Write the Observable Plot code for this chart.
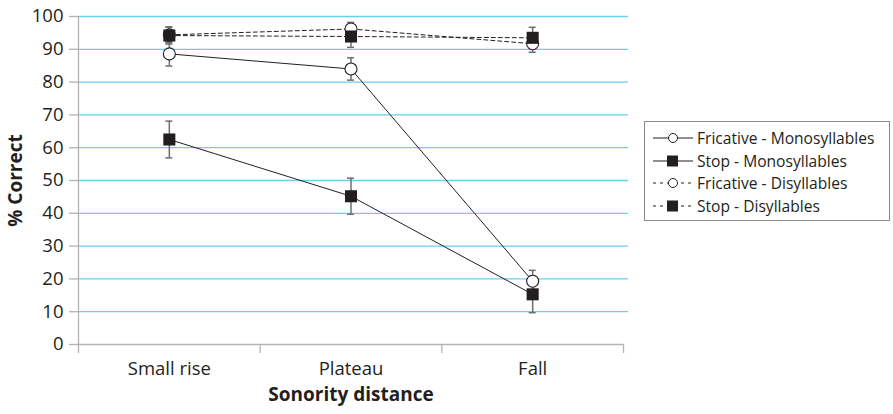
<!DOCTYPE html>
<html>
<head>
<meta charset="utf-8">
<script src="https://cdn.jsdelivr.net/npm/d3@7"></script>
<script src="https://cdn.jsdelivr.net/npm/@observablehq/plot@0.6"></script>
<style>
  body { margin: 0; background: #fff; font-family: "Open Sans", sans-serif; }
  #wrap { position: relative; width: 893px; height: 414px; }
  #legend { position: absolute; left: 644px; top: 121px; width: 246px; height: 100px;
            border: 1px solid #8a8a8a; box-sizing: border-box; padding-top: 5px; }
  .row { display: flex; align-items: center; height: 22.6px; font-size: 15.6px; color: #231f20; white-space: nowrap; }
  .row svg { margin-left: 7px; margin-right: 3px; }
</style>
</head>
<body>
<div id="wrap"><div id="legend"></div></div>
<script>
const categories = ["Small rise", "Plateau", "Fall"];
const seriesNames = ["Fricative - Monosyllables", "Stop - Monosyllables", "Fricative - Disyllables", "Stop - Disyllables"];
const fricMono = [88.6, 84.0, 19.3];
const fricMonoErr = [3.7, 3.4, 3.3];
const stopMono = [62.5, 45.2, 15.3];
const stopMonoErr = [5.6, 5.5, 5.6];
const fricDi = [94.4, 96.2, 91.7];
const fricDiErr = [2.4, 2.0, 2.6];
const stopDi = [94.2, 93.9, 93.5];
const stopDiErr = [2.6, 3.3, 3.2];
const yTicks = [0, 10, 20, 30, 40, 50, 60, 70, 80, 90, 100];

const seriesValues = [fricMono, stopMono, fricDi, stopDi];
const seriesErrs = [fricMonoErr, stopMonoErr, fricDiErr, stopDiErr];
const seriesShape = ["circle", "square", "circle", "square"];
const seriesDashed = [false, false, true, true];

const data = [];
seriesNames.forEach((s, si) => {
  categories.forEach((c, ci) => {
    const v = seriesValues[si][ci], e = seriesErrs[si][ci];
    data.push({series: s, cat: c, pos: ci + 0.5, value: v, lo: v - e, hi: v + e,
               shape: seriesShape[si], dashed: seriesDashed[si]});
  });
});

const ink = "#231f20";
const axisGray = "#b3b3b3";
const grid = "#6dcdf0";

const chart = Plot.plot({
  width: 893,
  height: 414,
  marginLeft: 78,
  marginRight: 270,
  marginTop: 16,
  marginBottom: 70,
  style: {fontFamily: "Open Sans, sans-serif", fontSize: "18.5px", color: ink, background: "white"},
  x: {domain: [0, categories.length]},
  y: {domain: [0, 100]},
  marks: [
    Plot.ruleY(yTicks.filter(d => d > 0), {stroke: grid, strokeWidth: 1.3, insetRight: -5}),
    Plot.ruleY([0], {stroke: axisGray, strokeWidth: 1.3}),
    Plot.ruleX([0], {stroke: axisGray, strokeWidth: 1.3}),
    Plot.axisY({ticks: yTicks, tickSize: 9, tickPadding: 6, stroke: axisGray, strokeWidth: 1.3, fill: ink, label: null}),
    Plot.axisX({ticks: d3.range(categories.length + 1), tickSize: 9, tickFormat: () => "", stroke: axisGray, strokeWidth: 1.3, label: null}),
    Plot.axisX({ticks: categories.map((c, i) => i + 0.5), tickSize: 0, tickPadding: 17,
                tickFormat: d => categories[Math.round(d - 0.5)], fill: ink, label: null}),
    Plot.text(["% Correct"], {frameAnchor: "left", textAnchor: "middle", rotate: -90, dx: -62.5, fontWeight: "bold", fontSize: 19, fill: ink}),
    Plot.text(["Sonority distance"], {frameAnchor: "bottom", textAnchor: "middle", dy: 56, fontWeight: "bold", fontSize: 19, fill: ink}),
    // lines
    Plot.line(data.filter(d => !d.dashed), {x: "pos", y: "value", z: "series", stroke: ink, strokeWidth: 1}),
    Plot.line(data.filter(d => d.dashed), {x: "pos", y: "value", z: "series", stroke: ink, strokeWidth: 1, strokeDasharray: "4,3"}),
    // error bars
    Plot.ruleX(data, {x: "pos", y1: "lo", y2: "hi", stroke: "#6d6e71", strokeWidth: 1.5}),
    Plot.ruleY(data, {y: "lo", x1: "pos", x2: "pos", insetLeft: -3.5, insetRight: -3.5, stroke: "#6d6e71", strokeWidth: 1.5}),
    Plot.ruleY(data, {y: "hi", x1: "pos", x2: "pos", insetLeft: -3.5, insetRight: -3.5, stroke: "#6d6e71", strokeWidth: 1.5}),
    // markers
    Plot.dot(data.filter(d => d.shape === "circle"), {x: "pos", y: "value", r: 6, symbol: "circle", fill: "white", stroke: ink, strokeWidth: 1.1}),
    Plot.dot(data.filter(d => d.shape === "square"), {x: "pos", y: "value", r: 6.8, symbol: "square", fill: ink, stroke: "none"})
  ]
});
document.getElementById("wrap").prepend(chart);

// legend
const legend = document.getElementById("legend");
seriesNames.forEach((s, i) => {
  const row = document.createElement("div");
  row.className = "row";
  const dash = seriesDashed[i] ? ' stroke-dasharray="3,4"' : "";
  const marker = seriesShape[i] === "circle"
    ? `<circle cx="21" cy="8" r="4.5" fill="white" stroke="${ink}" stroke-width="1"/>`
    : `<rect x="15" y="2.5" width="11" height="11" fill="${ink}"/>`;
  row.innerHTML = `<svg width="42" height="16"><line x1="1" x2="41" y1="8" y2="8" stroke="${ink}" stroke-width="1.2"${dash}/>${marker}</svg><span>${s}</span>`;
  legend.appendChild(row);
});
</script>
</body>
</html>
